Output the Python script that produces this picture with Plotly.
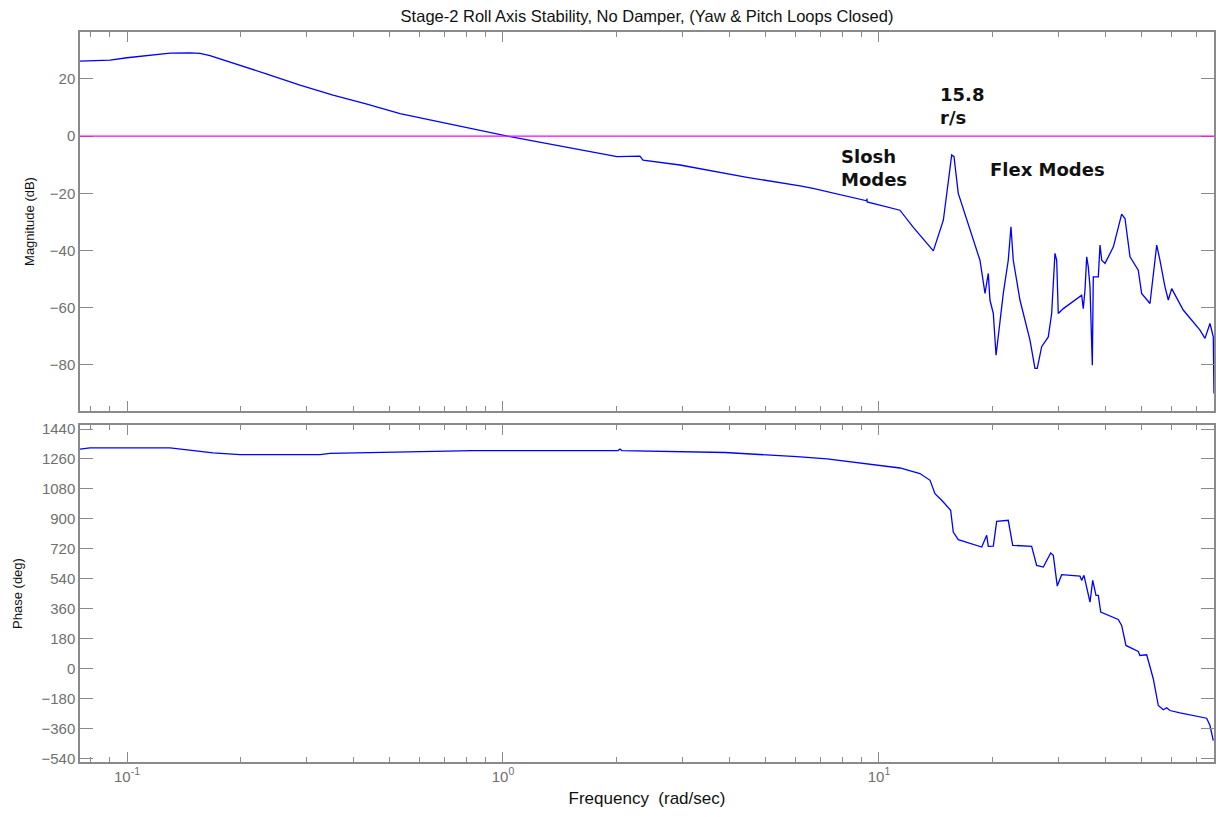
import plotly.graph_objects as go

# ---------------- data ----------------
mag_freq = [0.0750, 0.0901, 0.100, 0.1151, 0.1302, 0.1471, 0.1563, 0.1662, 0.1913, 0.2357,
            0.2885, 0.3531, 0.4347, 0.4709, 0.5323, 1.044, 1.602, 2.010, 2.313, 2.357,
            2.957, 4.456, 6.165, 6.675, 9.276, 9.292, 9.30, 11.37, 12.31, 13.95,
            14.83, 15.61, 15.83, 16.25, 17.11, 18.56, 19.14, 19.53, 19.73, 20.14,
            20.48, 20.98, 21.41, 22.07, 22.44, 22.76, 23.71, 25.21, 25.99, 26.36,
            27.08, 28.20, 28.79, 29.38, 29.69, 29.98, 30.92, 34.60, 34.94, 35.31,
            35.68, 36.03, 36.41, 36.93, 37.15, 38.31, 38.71, 39.12, 39.92, 42.01,
            44.20, 45.11, 46.52, 48.93, 49.95, 52.57, 53.64, 54.78, 55.89, 57.63,
            58.81, 60.05, 64.45, 71.41, 73.62, 75.91, 77.46, 77.80]
mag_db = [26.2, 26.6, 27.4, 28.3, 29.0, 29.1, 28.9, 28.1, 25.6, 21.7,
          17.8, 14.3, 11.2, 9.9, 7.9, -0.2, -4.7, -7.2, -7.0, -8.4,
          -10.1, -14.4, -17.4, -18.3, -22.6, -21.8, -23.0, -25.9, -31.7, -40.1,
          -29.4, -6.6, -7.2, -20.0, -29.4, -43.4, -55.0, -48.0, -57.3, -62.0,
          -76.6, -64.3, -55.0, -43.4, -31.7, -43.4, -57.3, -71.3, -81.2, -81.2,
          -73.6, -70.2, -62.0, -41.0, -43.4, -62.0, -60.3, -55.6, -60.3, -53.8,
          -42.2, -45.7, -52.7, -80.1, -49.2, -49.2, -38.1, -43.4, -44.5, -38.7,
          -27.3, -28.8, -42.2, -46.9, -55.0, -58.5, -48.0, -38.1, -43.4, -52.7,
          -57.3, -53.3, -60.8, -67.8, -70.7, -65.5, -70.2, -90.0]

ph_freq = [0.0750, 0.0797, 0.1302, 0.1471, 0.1693, 0.1998, 0.3262, 0.3467, 0.4510, 0.5323,
           0.6013, 0.8321, 2.022, 2.047, 2.07, 3.012, 3.894, 4.680, 6.052, 7.272,
           8.903, 10.06, 11.37, 12.85, 13.67, 14.09, 14.68, 15.51, 15.76, 16.25,
           17.46, 18.76, 19.34, 19.53, 20.14, 20.56, 22.07, 22.68, 25.47, 26.26,
           27.35, 28.62, 29.08, 29.80, 30.61, 34.24, 34.60, 35.09, 36.41, 37.02,
           37.77, 38.31, 38.88, 43.28, 44.20, 45.38, 48.93, 49.43, 51.52, 53.64,
           55.32, 57.03, 58.23, 59.42, 63.18, 74.38, 75.91, 77.46]
ph_deg = [1318.7, 1326.5, 1326.5, 1312.7, 1296.5, 1286.8, 1286.8, 1294.0, 1299.0, 1302.0,
          1302.5, 1310.8, 1310.8, 1320.0, 1310.8, 1305.0, 1299.0, 1288.6, 1274.8, 1260.4,
          1236.3, 1218.3, 1206.0, 1172.6, 1132.0, 1052.0, 1012.0, 952.0, 821.4, 775.7,
          751.6, 731.2, 801.6, 735.4, 737.2, 885.8, 891.8, 741.4, 735.4, 621.0,
          611.0, 695.0, 681.3, 496.7, 565.2, 556.8, 531.0, 561.0, 400.5, 531.0,
          440.8, 440.8, 340.3, 296.5, 260.4, 140.1, 104.0, 80.0, 84.2, -60.0,
          -220.7, -246.5, -234.5, -250.8, -264.6, -297.0, -341.0, -431.0]

x_tick_vals = [0.1, 1, 10]
x_tick_text = ["10<sup>-1</sup>", "10<sup>0</sup>", "10<sup>1</sup>"]
mag_ticks = [20, 0, -20, -40, -60, -80]
phase_ticks = [1440, 1260, 1080, 900, 720, 540, 360, 180, 0, -180, -360, -540]

title_text = "Stage-2 Roll Axis Stability, No Damper, (Yaw &amp; Pitch Loops Closed)"

# ---------------- figure ----------------
fig = go.Figure()
fig.add_trace(go.Scatter(x=mag_freq, y=mag_db, mode="lines",
                         line=dict(color="#0000ff", width=1.3),
                         xaxis="x", yaxis="y", showlegend=False))
fig.add_trace(go.Scatter(x=ph_freq, y=ph_deg, mode="lines",
                         line=dict(color="#0000ff", width=1.3),
                         xaxis="x2", yaxis="y2", showlegend=False))

minor_vals = [d * 10 ** e for e in (-2, -1, 0, 1) for d in range(2, 10)]
axis_gray = "#8a8a8a"
tick_font = dict(family="Liberation Sans, Arial, sans-serif", size=15, color="#6f6f6f")

xcommon = dict(type="log", range=[-1.125, 1.891], showgrid=False, zeroline=False,
               showline=True, linecolor=axis_gray, linewidth=1.5, mirror="ticks",
               ticks="inside", ticklen=10, tickcolor=axis_gray, tickwidth=1,
               tickmode="array", tickvals=x_tick_vals, automargin=False,
               minor=dict(tickvals=minor_vals, ticks="inside", ticklen=5,
                          tickcolor=axis_gray, showgrid=False),
               tickfont=tick_font)

ycommon = dict(showgrid=False, zeroline=False, showline=True, linecolor=axis_gray,
               linewidth=1.5, mirror="ticks", ticks="inside", ticklen=13,
               tickcolor=axis_gray, tickwidth=1, tickfont=tick_font, tickmode="array",
               automargin=False)

fig.update_layout(
    width=1216, height=817,
    margin=dict(l=80, r=2, t=32, b=55),
    paper_bgcolor="white", plot_bgcolor="white",
    font=dict(family="Liberation Sans, Arial, sans-serif", size=13, color="#111111"),
    title=dict(text=title_text, x=0.5, xref="paper", y=1 - 16 / 817, yanchor="middle",
               font=dict(size=16.5, color="#111111")),
    xaxis=dict(xcommon, domain=[0, 1], anchor="y", ticktext=["", "", ""]),
    yaxis=dict(ycommon, domain=[0.4808, 1], range=[-96.1, 36.4], anchor="x",
               tickvals=mag_ticks, title=dict(text="Magnitude (dB)", standoff=12,
                                              font=dict(size=13))),
    xaxis2=dict(xcommon, domain=[0, 1], anchor="y2", ticktext=x_tick_text,
                title=dict(text="Frequency  (rad/sec)", standoff=8, font=dict(size=17))),
    yaxis2=dict(ycommon, domain=[0, 0.4616], range=[-560, 1464], anchor="x2",
                tickvals=phase_ticks, title=dict(text="Phase (deg)", standoff=16,
                                                 font=dict(size=13))),
)

# 0 dB reference line
fig.add_shape(type="line", xref="x domain", x0=0, x1=1, yref="y", y0=0, y1=0,
              line=dict(color="#ff00ff", width=1.2))

ann_font = dict(family="DejaVu Sans, sans-serif", size=18, color="#111111")
fig.add_annotation(text="<b>15.8</b><br><b>r/s</b>", xref="paper", yref="paper",
                   x=0.7566, y=0.898, xanchor="left", yanchor="middle", align="left",
                   showarrow=False, font=ann_font)
fig.add_annotation(text="<b>Slosh</b><br><b>Modes</b>", xref="paper", yref="paper",
                   x=0.6693, y=0.8137, xanchor="left", yanchor="middle", align="left",
                   showarrow=False, font=ann_font)
fig.add_annotation(text="<b>Flex Modes</b>", xref="paper", yref="paper",
                   x=0.8007, y=0.8123, xanchor="left", yanchor="middle", align="left",
                   showarrow=False, font=ann_font)

fig.write_html("out.html",
               config={"displayModeBar": False},
               post_script="document.body.style.margin='0';"
                           "document.body.style.overflow='hidden';")
